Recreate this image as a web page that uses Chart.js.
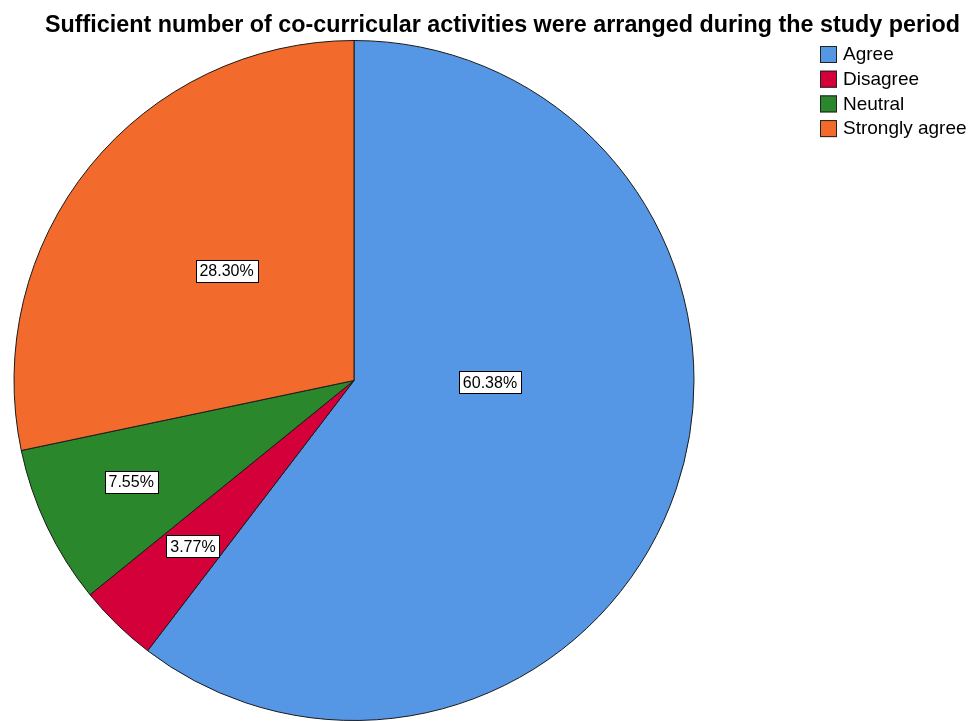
<!DOCTYPE html>
<html>
<head>
<meta charset="utf-8">
<script src="https://cdn.jsdelivr.net/npm/chart.js@4.4.1/dist/chart.umd.min.js"></script>
<style>
  html, body { margin: 0; padding: 0; background: #fff; }
  canvas { display: block; }
</style>
</head>
<body>
<canvas id="pie" width="973" height="721"></canvas>
<script>
const title = 'Sufficient number of co-curricular activities were arranged during the study period';
const categories = ['Agree', 'Disagree', 'Neutral', 'Strongly agree'];
const percents = [60.38, 3.77, 7.55, 28.30];
const colors = ['#5596e5', '#d4003a', '#2a872b', '#f26b2d'];

// where each value label sits: fraction of radius, and a nudge of the angle (deg)
const labelRadius = [0.40, 0.68, 0.72, 0.495];
const labelAngleShift = [-18, 0, 1, 1.7];

const overlay = {
  id: 'overlay',
  afterDraw(chart) {
    const ctx = chart.ctx;
    ctx.save();

    // title, fitted to the width it has in the original
    ctx.fillStyle = '#000';
    ctx.font = 'bold 23px "Liberation Sans", Arial, sans-serif';
    ctx.textAlign = 'left';
    ctx.textBaseline = 'alphabetic';
    const tw = ctx.measureText(title).width;
    ctx.save();
    ctx.translate(45, 32);
    ctx.scale(915 / tw, 1);
    ctx.fillText(title, 0, 0);
    ctx.restore();

    // legend
    ctx.font = '19px "Liberation Sans", Arial, sans-serif';
    ctx.textBaseline = 'middle';
    categories.forEach((c, i) => {
      const y = 54 + i * 24.7;
      ctx.fillStyle = colors[i];
      ctx.fillRect(820, y - 8, 17, 17);
      ctx.strokeStyle = '#222';
      ctx.lineWidth = 1;
      ctx.strokeRect(820.5, y - 7.5, 16, 16);
      ctx.fillStyle = '#000';
      ctx.fillText(c, 843, y + 1);
    });

    // value labels
    const meta = chart.getDatasetMeta(0);
    ctx.font = '16px "Liberation Sans", Arial, sans-serif';
    ctx.textAlign = 'center';
    meta.data.forEach((arc, i) => {
      const p = arc.getProps(['x', 'y', 'startAngle', 'endAngle', 'outerRadius'], true);
      const mid = (p.startAngle + p.endAngle) / 2 + labelAngleShift[i] * Math.PI / 180;
      const r = p.outerRadius * labelRadius[i];
      const x = p.x + Math.cos(mid) * r;
      const y = p.y + Math.sin(mid) * r;
      const txt = percents[i].toFixed(2) + '%';
      const w = Math.round(ctx.measureText(txt).width) + 8;
      const h = 22;
      const bx = Math.round(x - w / 2) + 0.5;
      const by = Math.round(y - h / 2) + 0.5;
      ctx.fillStyle = '#fff';
      ctx.fillRect(bx, by, w, h);
      ctx.strokeStyle = '#000';
      ctx.strokeRect(bx, by, w, h);
      ctx.fillStyle = '#000';
      ctx.fillText(txt, x, y + 1);
    });

    ctx.restore();
  }
};

new Chart(document.getElementById('pie'), {
  type: 'pie',
  data: {
    labels: categories,
    datasets: [{
      data: percents,
      backgroundColor: colors,
      borderColor: '#1a1a1a',
      borderWidth: 1
    }]
  },
  options: {
    responsive: false,
    animation: false,
    events: [],
    layout: { padding: { left: 13, top: 40, right: 278, bottom: 0 } },
    plugins: {
      legend: { display: false },
      title: { display: false },
      tooltip: { enabled: false }
    }
  },
  plugins: [overlay]
});
</script>
</body>
</html>
